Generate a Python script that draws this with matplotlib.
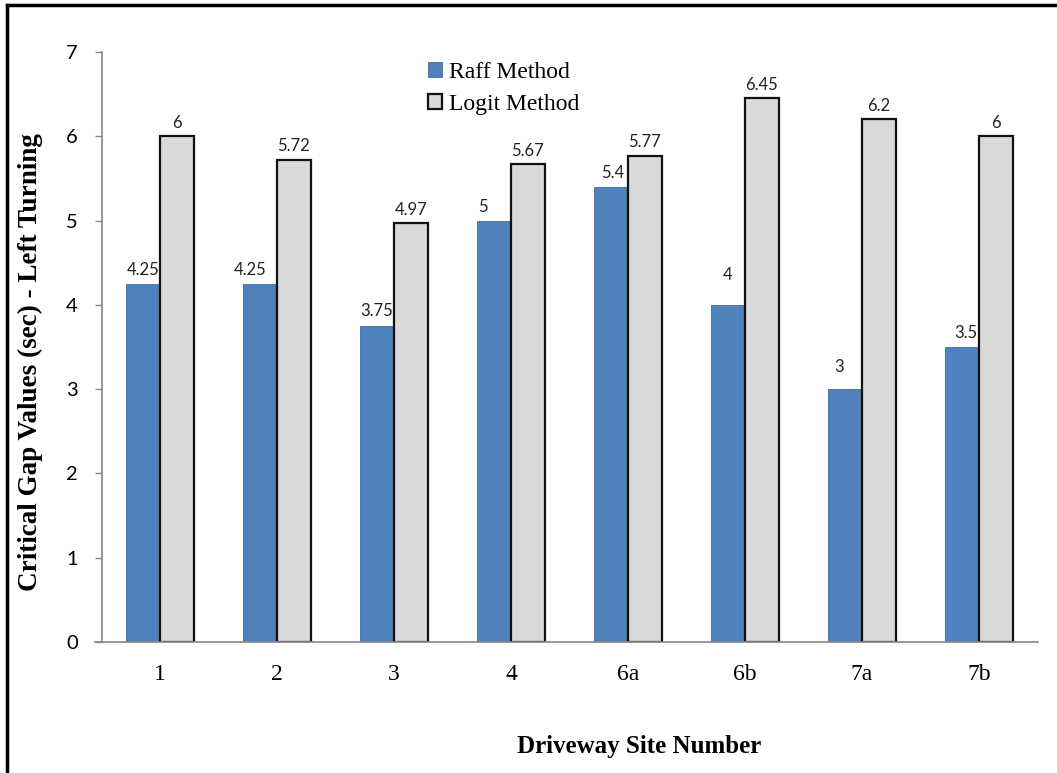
import numpy as np
import matplotlib.pyplot as plt
from matplotlib.lines import Line2D

# critical gap values (sec) per driveway site
sites = ['1', '2', '3', '4', '6a', '6b', '7a', '7b']
raff = [4.25, 4.25, 3.75, 5, 5.4, 4, 3, 3.5]
logit = [6, 5.72, 4.97, 5.67, 5.77, 6.45, 6.2, 6]
raff_text = ['4.25', '4.25', '3.75', '5', '5.4', '4', '3', '3.5']
logit_text = ['6', '5.72', '4.97', '5.67', '5.77', '6.45', '6.2', '6']

# hand-placed label nudges for the Raff series (points)
raff_dx = [0, -7, 0, -8, 1, 0, -4, 3]
raff_dy = [4, 4, 5, 4, 4, 16, 10, 4]

blue = '#4f81bd'
grey = '#d9d9d9'
axis_grey = '#868686'
serif = 'Liberation Serif'
sans = 'Lato'

fig = plt.figure(figsize=(10.57, 7.73), dpi=100)
ax = fig.add_axes([101.5 / 1057, 1 - 642 / 773, 936 / 1057, 590 / 773])

x = np.arange(len(sites))
w = 0.29
b1 = ax.bar(x - w / 2, raff, w, color=blue, edgecolor='#41709f', linewidth=0.6,
            label='Raff Method', zorder=2)
b2 = ax.bar(x + w / 2, logit, w, color=grey, edgecolor='#111111', linewidth=1.6,
            label='Logit Method', zorder=2)

for i in range(len(sites)):
    ax.annotate(raff_text[i], (x[i] - w / 2, raff[i]),
                xytext=(raff_dx[i], raff_dy[i]), textcoords='offset points',
                ha='center', va='bottom', fontsize=12, family=sans, color='#222222')
    ax.annotate(logit_text[i], (x[i] + w / 2, logit[i]),
                xytext=(0, 4), textcoords='offset points',
                ha='center', va='bottom', fontsize=12, family=sans, color='#222222')

ax.set_xlim(-0.5, len(sites) - 0.5)
ax.set_ylim(0, 7)
ax.set_yticks(range(0, 8))
ax.set_xticks(x)
ax.set_xticklabels(sites, family=serif, fontsize=17)
for t in ax.get_yticklabels():
    t.set_family(sans)
    t.set_fontsize(14.5)

ax.tick_params(axis='y', length=5, width=1, color=axis_grey, pad=12)
ax.tick_params(axis='x', length=0, pad=16)
for s in ['top', 'right']:
    ax.spines[s].set_visible(False)
for s in ['left', 'bottom']:
    ax.spines[s].set_color(axis_grey)
    ax.spines[s].set_linewidth(1.2)
ax.spines['bottom'].set_bounds(-0.5 - 7 / 117, len(sites) - 0.5)

fig.text(30 / 1057, 1 - 362 / 773, 'Critical Gap Values (sec) - Left Turning',
         rotation=90, ha='center', va='center', family=serif,
         fontweight='bold', fontsize=19.5)
fig.text(639 / 1057, 1 - 747 / 773, 'Driveway Site Number', ha='center',
         va='center', family=serif, fontweight='bold', fontsize=18)

leg = fig.legend(handles=[b1, b2], loc='upper left',
                 bbox_to_anchor=(428 / 1057, 1 - 62 / 773),
                 frameon=False, prop={'family': serif, 'size': 17},
                 handlelength=0.6, handleheight=0.6, handletextpad=0.3,
                 labelspacing=0.45, borderpad=0, borderaxespad=0)

# page frame around the figure
fig.add_artist(Line2D([7 / 1057, 7 / 1057], [0, 1 - 5 / 773],
                      transform=fig.transFigure, color='black', lw=2.5))
fig.add_artist(Line2D([7 / 1057, 1], [1 - 5 / 773, 1 - 5 / 773],
                      transform=fig.transFigure, color='black', lw=2.5))

fig.savefig('out.png', dpi=100)
